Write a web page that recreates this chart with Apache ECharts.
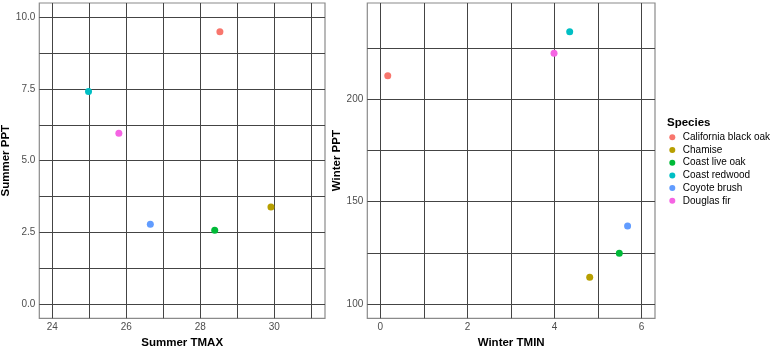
<!DOCTYPE html>
<html>
<head>
<meta charset="utf-8">
<script src="https://cdn.jsdelivr.net/npm/echarts@6/dist/echarts.min.js"></script>
<style>
html,body{margin:0;padding:0;background:#fff;}
#main{width:775px;height:347px;}
</style>
</head>
<body>
<div id="main"></div>
<script>
var species = ['California black oak', 'Chamise', 'Coast live oak', 'Coast redwood', 'Coyote brush', 'Douglas fir'];
var colors = ['#F8766D', '#B79F00', '#00BA38', '#00BFC4', '#619CFF', '#F564E3'];

var summerTmax = [28.53, 29.91, 28.39, 24.98, 26.65, 25.8];
var summerPpt = [9.5, 3.38, 2.57, 7.41, 2.78, 5.96];
var winterTmin = [0.17, 4.81, 5.49, 4.35, 5.68, 3.99];
var winterPpt = [211.5, 113.1, 124.8, 232.9, 138.1, 222.5];

// tick labels and grid lines (major + minor)
var tmaxLabels = [24, 26, 28, 30];
var tmaxLines = [24, 25, 26, 27, 28, 29, 30, 31];
var sppLabels = [0, 2.5, 5, 7.5, 10];
var sppLines = [0, 1.25, 2.5, 3.75, 5, 6.25, 7.5, 8.75, 10];
var tminLabels = [0, 2, 4, 6];
var tminLines = [0, 1, 2, 3, 4, 5, 6];
var wppLabels = [100, 150, 200];
var wppLines = [100, 125, 150, 175, 200, 225];

var myChart = echarts.init(document.getElementById('main'));

var font = 'Liberation Sans, Arial, sans-serif';

function xAx(grid, name, min, max, labels, lines) {
	return {
		type: 'value', gridIndex: grid, name: name, min: min, max: max,
		nameLocation: 'middle', nameGap: 14.5,
		nameTextStyle: {fontFamily: font, fontSize: 11.5, fontWeight: 'bold', color: '#000'},
		axisLine: {show: false},
		axisTick: {show: false, customValues: lines},
		axisLabel: {customValues: labels, fontFamily: font, fontSize: 10, color: '#4d4d4d', margin: 4},
		splitLine: {show: true, lineStyle: {color: '#444', width: 1}}
	};
}
function yAx(grid, name, gap, min, max, labels, lines, fmt) {
	return {
		type: 'value', gridIndex: grid, name: name, min: min, max: max,
		nameLocation: 'middle', nameGap: gap,
		nameTextStyle: {fontFamily: font, fontSize: 11.5, fontWeight: 'bold', color: '#000'},
		axisLine: {show: false},
		axisTick: {show: false, customValues: lines},
		axisLabel: {customValues: labels, fontFamily: font, fontSize: 10, color: '#4d4d4d', margin: 4, formatter: fmt},
		splitLine: {show: true, lineStyle: {color: '#444', width: 1}}
	};
}

var series = [];
for (var i = 0; i < species.length; i++) {
	series.push({
		name: species[i], type: 'scatter', xAxisIndex: 0, yAxisIndex: 0,
		symbolSize: 7, itemStyle: {color: colors[i], opacity: 1},
		data: [[summerTmax[i], summerPpt[i]]]
	});
	series.push({
		name: species[i], type: 'scatter', xAxisIndex: 1, yAxisIndex: 1,
		symbolSize: 7, itemStyle: {color: colors[i], opacity: 1},
		data: [[winterTmin[i], winterPpt[i]]]
	});
}

option = {
	backgroundColor: '#fff',
	animation: false,
	title: {
		text: 'Species', left: 667, top: 117, padding: 0,
		textStyle: {fontFamily: font, fontSize: 11.5, fontWeight: 'bold', color: '#000'}
	},
	legend: {
		orient: 'vertical', left: 669.3, top: 131.3, padding: 0,
		icon: 'circle', itemWidth: 7, itemHeight: 6, itemGap: 0.7,
		textStyle: {fontFamily: font, fontSize: 10, lineHeight: 12, color: '#000', padding: [0, 0, 0, 2]},
		data: species
	},
	grid: [
		{left: 39.3, top: 3, width: 285.7, height: 315.3, outerBoundsMode: 'none', containLabel: false, show: true, borderColor: '#8a8a8a', borderWidth: 1.2, backgroundColor: '#fff'},
		{left: 367.3, top: 3, width: 287.7, height: 315.3, outerBoundsMode: 'none', containLabel: false, show: true, borderColor: '#8a8a8a', borderWidth: 1.2, backgroundColor: '#fff'}
	],
	xAxis: [
		xAx(0, 'Summer TMAX', 23.65, 31.37, tmaxLabels, tmaxLines),
		xAx(1, 'Winter TMIN', -0.30, 6.31, tminLabels, tminLines)
	],
	yAxis: [
		yAx(0, 'Summer PPT', 24, -0.5, 10.5, sppLabels, sppLines, function (v) { return v.toFixed(1); }),
		yAx(1, 'Winter PPT', 21.5, 93, 247, wppLabels, wppLines, function (v) { return String(v); })
	],
	series: series
};
myChart.setOption(option);
</script>
</body>
</html>
